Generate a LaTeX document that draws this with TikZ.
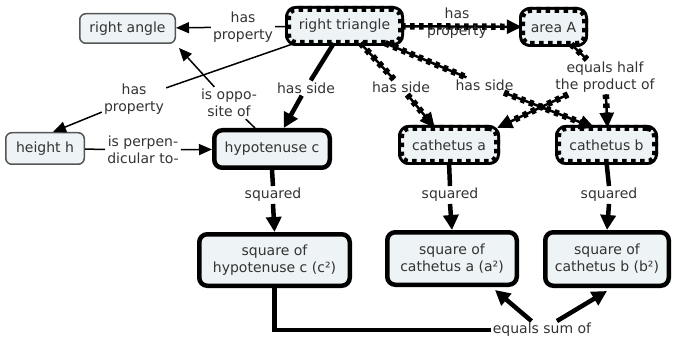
\documentclass[tikz,border=0pt]{standalone}
\usepackage{fontspec}
\setmainfont{DejaVu Sans}
\usetikzlibrary{arrows.meta}
\definecolor{cfill}{HTML}{EEF3F6}
\definecolor{ctext}{HTML}{333333}
\definecolor{cthin}{HTML}{555555}
\begin{document}
\begin{tikzpicture}[x=1pt,y=-1pt,
  font=\fontsize{14}{17}\selectfont,
  every node/.style={text=ctext},
  concept/.style={rectangle, rounded corners=6pt, fill=cfill, inner sep=0pt, align=center},
  thinbox/.style={concept, draw=cthin, line width=1.5pt},
  thickbox/.style={concept, draw=black, line width=4.5pt, rounded corners=8pt},
  notchbox/.style={concept, rounded corners=8pt,
    preaction={draw=black, line width=6pt},
    postaction={draw=black, line width=6pt, dash pattern=on 4.5pt off 4.5pt}},
  linkword/.style={inner sep=2pt, align=center},
  thinlink/.style={draw=black, line width=1.5pt},
  thinarrow/.style={thinlink, -{Triangle[length=13pt,width=11pt]}},
  thicklink/.style={draw=black, line width=4.5pt},
  thickarrow/.style={thicklink, -{Triangle[length=15pt,width=15pt]}},
  notchlink/.style={draw=black, line width=2.5pt,
    postaction={draw=black, line width=6.5pt, dash pattern=on 4.5pt off 4.5pt, arrows=-}},
  notcharrow/.style={draw=black, line width=2.5pt, -{Triangle[length=15pt,width=14pt]},
    postaction={draw=black, line width=6.5pt, dash pattern=on 4.5pt off 4.5pt, arrows=-, shorten >=12pt}},
]
\useasboundingbox (0,0) rectangle (674,339);

% concepts
\node[thinbox, minimum width=95.5pt, minimum height=29.5pt] (ra) at (127.5,28.5) {right angle};
\node[thinbox, minimum width=78.5pt, minimum height=31.5pt] (hh) at (45,148.5) {height h};
\node[notchbox, minimum width=113pt, minimum height=34pt] (rt) at (344.5,26) {right triangle};
\node[notchbox, minimum width=63pt, minimum height=34pt] (aa) at (553.5,27) {area A};
\node[notchbox, minimum width=96pt, minimum height=34pt] (ca) at (449,145) {cathetus a};
\node[notchbox, minimum width=97pt, minimum height=34pt] (cb) at (606.5,145) {cathetus b};
\node[thickbox, minimum width=115.5pt, minimum height=37.5pt] (hyp) at (272,149) {hypotenuse c};
\node[thickbox, minimum width=150.5pt, minimum height=51.5pt] (sqc) at (274.5,260) {square of\\hypotenuse c (c²)};
\node[thickbox, minimum width=129.5pt, minimum height=52.5pt] (sqa) at (452,258.5) {square of\\cathetus a (a²)};
\node[thickbox, minimum width=123.5pt, minimum height=53.5pt] (sqb) at (607,259) {square of\\cathetus b (b²)};

% linking phrases
\node[linkword] (hp1) at (243,27) {has\\property};
\node[linkword] (hp3) at (134,99) {has\\property};
\node[linkword] (opp) at (229,103) {is oppo-\\site of};
\node[linkword] (perp) at (143,150) {is perpen-\\dicular to-};
\node[linkword] (hs1) at (306,88) {has side};
\node[linkword] (hs2) at (401,87) {has side};
\node[linkword] (hs3) at (484.5,85) {has side};
\node[linkword] (eh) at (605,77) {equals half\\the product of};
\node[linkword] (sq1) at (273,195) {squared};
\node[linkword] (sq2) at (450,195) {squared};
\node[linkword] (sq3) at (609,195) {squared};
\node[linkword] (es) at (542,330) {equals sum of};

% thin connectors
\draw[thinlink] (rt) -- (hp1);
\draw[thinarrow] (hp1) -- (ra);
\draw[thinlink] (rt) -- (hp3);
\draw[thinarrow] (hp3) -- ([xshift=8pt]hh.north);
\draw[thinlink] ([xshift=-17pt]hyp.north) -- (opp);
\draw[thinarrow] (opp) -- ([shift={(3pt,-4pt)}]ra.south east);
\draw[thinlink] (hh) -- (perp);
\draw[thinarrow] (perp) -- (hyp);

% thick connectors
\draw[thicklink] (rt) -- (hs1);
\draw[thickarrow] (hs1) -- (hyp);
\draw[thicklink] (hyp.south) -- (sq1.north);
\draw[thickarrow] (sq1.south) -- (sqc.north);
\draw[thicklink] (ca.south) -- (sq2.north);
\draw[thickarrow] (sq2.south) -- (sqa.north);
\draw[thicklink] (cb.south) -- (sq3.north);
\draw[thickarrow] (sq3.south) -- (sqb.north);
\draw[thicklink] (sqc.south) |- (es.west);
\draw[thickarrow] (es) -- ([shift={(43pt,-3pt)}]sqa.south);
\draw[thickarrow] (es) -- ([yshift=-3pt]sqb.south);

% notched connectors
\draw[notcharrow] (rt) -- (aa);
\draw[notchlink] (rt) -- (hs2);
\draw[notcharrow] (hs2) -- (ca);
\draw[notchlink] (rt) -- (hs3);
\draw[notcharrow] (hs3) -- ([xshift=-12pt]cb.north);
\draw[notchlink] (aa) -- (eh);
\draw[notcharrow] (eh) -- (ca.north east);
\draw[notcharrow] (eh) -- ([xshift=1pt]cb.north);

% phrase set over the connector that runs through it
\node[linkword] (hp2) at (457,23) {has\\property};
\end{tikzpicture}
\end{document}
